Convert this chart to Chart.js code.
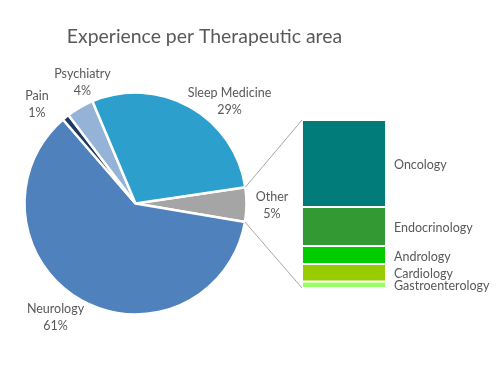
<!DOCTYPE html>
<html><head><meta charset="utf-8">
<script src="https://cdn.jsdelivr.net/npm/chart.js@4"></script>
<style>
html,body{margin:0;padding:0;background:#fff;}
#wrap{position:relative;width:500px;height:375px;overflow:hidden;}
#pie{position:absolute;left:0;top:0;}
#bar{position:absolute;left:302px;top:120px;}
</style></head><body>
<div id="wrap"><canvas id="pie" width="500" height="375"></canvas><canvas id="bar" width="84" height="168"></canvas></div>
<script>
// ---- data ----
const title = "Experience per Therapeutic area";
const pieLabels = ["Other", "Neurology", "Pain", "Psychiatry", "Sleep Medicine"];
const pieValues = [5, 61, 1, 4, 29];
const pieColors = ["#A5A5A5", "#4F81BD", "#1F3A5F", "#95B3D7", "#2C9FCC"];
const otherLabels = ["Oncology", "Endocrinology", "Andrology", "Cardiology", "Gastroenterology"];
const otherValues = [2.57, 1.15, 0.53, 0.52, 0.19];
const otherColors = ["#027B7B", "#339933", "#00CC00", "#99CC00", "#99FF66"];

const TEXT = "#595959";
const FONT = "Lato, 'Open Sans', sans-serif";
Chart.defaults.font.family = FONT;

// label anchor layout (text centre positions for pie labels)
const pieLabelPos = {
  "Other": [272, 197],
  "Neurology": [55.5, 309],
  "Pain": [37, 96],
  "Psychiatry": [82.5, 74],
  "Sleep Medicine": [229.5, 93]
};

const barCanvas = document.getElementById('bar');
const barLeft = 302, barTop = 120;

const barChart = new Chart(barCanvas, {
  type: 'bar',
  data: {
    labels: ["Other"],
    datasets: otherLabels.map((l, i) => ({
      label: l,
      data: [otherValues[i]],
      backgroundColor: otherColors[i],
      borderColor: '#ffffff',
      borderWidth: 1.3,
      borderSkipped: false,
      barPercentage: 1,
      categoryPercentage: 1
    }))
  },
  options: {
    responsive: false,
    animation: false,
    layout: { padding: 0 },
    plugins: { legend: { display: false }, tooltip: { enabled: false } },
    scales: {
      x: { stacked: true, display: false },
      y: { stacked: true, display: false, reverse: true, min: 0,
           max: otherValues.reduce((a, b) => a + b, 0) }
    }
  }
});

const overlay = {
  id: 'overlay',
  afterDraw(chart) {
    const ctx = chart.ctx;
    ctx.save();
    // title
    ctx.fillStyle = TEXT;
    ctx.textAlign = 'center';
    ctx.textBaseline = 'middle';
    ctx.font = "19.4px " + FONT;
    ctx.fillText(title, 204.5, 37);

    // pie labels
    ctx.font = "12.5px " + FONT;
    const total = pieValues.reduce((a, b) => a + b, 0);
    pieLabels.forEach((l, i) => {
      const p = pieLabelPos[l];
      ctx.fillText(l, p[0], p[1]);
      ctx.fillText(Math.round(pieValues[i] / total * 100) + "%", p[0], p[1] + 16.5);
    });

    // connectors
    const arc = chart.getDatasetMeta(0).data[0];
    const r = arc.outerRadius;
    const p1 = [arc.x + r * Math.cos(arc.startAngle), arc.y + r * Math.sin(arc.startAngle)];
    const p2 = [arc.x + r * Math.cos(arc.endAngle), arc.y + r * Math.sin(arc.endAngle)];
    const topEl = barChart.getDatasetMeta(0).data[0];
    const botEl = barChart.getDatasetMeta(otherLabels.length - 1).data[0];
    const bx = barLeft + topEl.x - topEl.width / 2;
    const by1 = barTop + Math.min(topEl.y, topEl.base);
    const by2 = barTop + Math.max(botEl.y, botEl.base);
    ctx.strokeStyle = "#A6A6A6";
    ctx.lineWidth = 1;
    ctx.beginPath();
    ctx.moveTo(p1[0], p1[1]); ctx.lineTo(bx, by1);
    ctx.moveTo(p2[0], p2[1]); ctx.lineTo(bx, by2);
    ctx.stroke();

    // bar segment labels
    ctx.textAlign = 'left';
    otherLabels.forEach((l, i) => {
      const el = barChart.getDatasetMeta(i).data[0];
      const cy = barTop + (el.y + el.base) / 2 + 1.5;
      ctx.fillText(l, barLeft + topEl.x + topEl.width / 2 + 8, cy);
    });
    ctx.restore();
  }
};

new Chart(document.getElementById('pie'), {
  type: 'pie',
  data: {
    labels: pieLabels,
    datasets: [{
      data: pieValues,
      backgroundColor: pieColors,
      borderColor: '#ffffff',
      borderWidth: 2.5
    }]
  },
  options: {
    responsive: false,
    animation: false,
    rotation: 81.6,
    radius: 111,
    layout: { padding: { left: 25, right: 254, top: 93, bottom: 61 } },
    plugins: { legend: { display: false }, tooltip: { enabled: false } }
  },
  plugins: [overlay]
});
</script>
</body></html>
